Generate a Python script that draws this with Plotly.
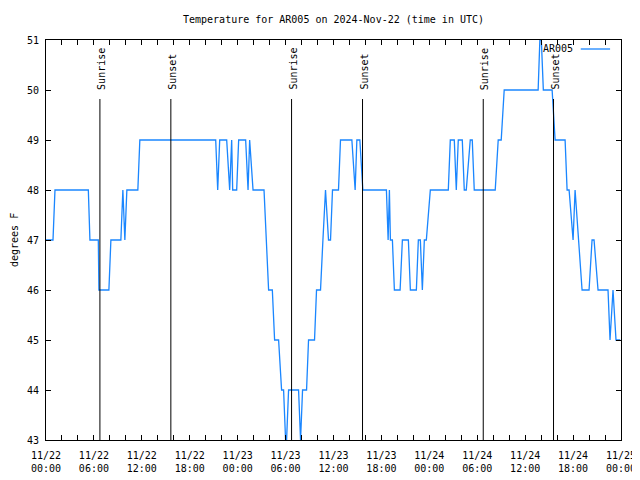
import pandas as pd
import plotly.graph_objects as go

# ---- data ----
start = "2024-11-22 00:00"
# hours since 2024-11-22 00:00 UTC
hours = [0, 0.875, 1.125, 5.3, 5.5, 6.55, 6.625, 7.875, 8.125, 9.375, 9.625, 9.875,
         10.125, 11.5, 11.75, 21.25, 21.5, 21.75, 22.625, 23.0, 23.25, 23.375, 23.875,
         24.125, 25.0, 25.3, 25.5, 25.925, 27.3, 27.875, 28.34, 28.625, 29.125, 29.5,
         29.75, 30.0, 30.125, 30.375, 31.625, 31.875, 32.125, 32.625, 32.875, 33.625,
         33.875, 34.375, 34.675, 35.0, 35.375, 35.625, 35.875, 36.625, 36.875, 38.3,
         38.71, 38.925, 39.3, 39.675, 42.625, 42.84, 43.0, 43.125, 43.375, 43.625,
         44.34, 44.625, 45.375, 45.625, 46.375, 46.625, 46.875, 47.125, 47.375, 47.625,
         48.125, 50.375, 50.625, 51.125, 51.375, 51.625, 52.125, 52.375, 52.625, 53.125,
         53.375, 53.625, 56.25, 56.625, 57.0, 57.375, 61.625, 61.84, 62.025, 62.275,
         63.375, 63.75, 65.0, 65.25, 65.5, 66.0, 66.25, 67.125, 68.0, 68.375, 68.625,
         69.125, 70.375, 70.625, 71.0, 71.375, 71.9]
temps = [47, 47, 48, 48, 47, 47, 46, 46, 47, 47, 48, 47,
         48, 48, 49, 49, 48, 49, 49, 48, 49, 48, 48,
         49, 49, 48, 49, 48, 48, 46, 46, 45, 45, 44,
         44, 43, 43, 44, 44, 43, 44, 44, 45, 45,
         46, 46, 47, 48, 47, 47, 48, 48, 49, 49,
         48, 49, 49, 48, 48, 47, 48, 47, 47, 46,
         46, 47, 47, 46, 46, 47, 47, 46, 47, 47,
         48, 48, 49, 49, 48, 49, 49, 48, 48, 49,
         49, 48, 48, 49, 49, 50, 50, 51, 51, 50,
         50, 49, 49, 48, 48, 47, 48, 46, 46, 47, 47,
         46, 46, 45, 46, 45, 45]

sun_times = ["2024-11-22 06:45", "2024-11-22 15:38", "2024-11-23 06:45",
             "2024-11-23 15:38", "2024-11-24 06:45", "2024-11-24 15:33"]
sun_labels = ["Sunrise", "Sunset", "Sunrise", "Sunset", "Sunrise", "Sunset"]

station = "AR005"
title = "Temperature for AR005 on 2024-Nov-22 (time in UTC)"
y_title = "degrees F"

# ---- figure ----
FONT = "DejaVu Sans Mono"
LINE_COLOR = "#1a86ff"
# the page body has an 8px margin, so the figure is 8px smaller than the window
FIG_W, FIG_H = 632, 472
times = pd.Timestamp(start) + pd.to_timedelta(hours, unit="h")

fig = go.Figure()
fig.add_trace(go.Scatter(x=times, y=temps, mode="lines", name=station,
                         line=dict(color=LINE_COLOR, width=1.3), showlegend=False))

shapes = []
annotations = []
for t, lab in zip(sun_times, sun_labels):
    shapes.append(dict(type="line", xref="x", yref="paper", x0=t, x1=t, y0=0, y1=0.8525,
                       line=dict(color="black", width=1)))
    annotations.append(dict(x=t, y=0.87, xref="x", yref="paper", text=lab, textangle=-90,
                            showarrow=False, xanchor="center", yanchor="bottom", xshift=1,
                            font=dict(family=FONT, size=10, color="black")))

# legend (gnuplot style: text then sample)
annotations.append(dict(x=0.92, y=0.9775, xref="paper", yref="paper", text=station,
                        showarrow=False, xanchor="right", yanchor="middle",
                        font=dict(family=FONT, size=10, color="black")))
shapes.append(dict(type="line", xref="paper", yref="paper", x0=0.930, x1=0.981,
                   y0=0.9775, y1=0.9775, line=dict(color=LINE_COLOR, width=1.3)))
# y axis title
annotations.append(dict(x=0, y=0.5, xref="paper", yref="paper", text=y_title,
                        textangle=-90, showarrow=False, xanchor="center", yanchor="middle",
                        xshift=-32, font=dict(family=FONT, size=10, color="black")))

fig.update_layout(
    width=FIG_W, height=FIG_H,
    margin=dict(l=38, r=19, t=32, b=40, autoexpand=False),
    paper_bgcolor="white", plot_bgcolor="white",
    font=dict(family=FONT, size=10, color="black"),
    title=dict(text=title, x=0.5, xref="paper", xanchor="center",
               y=1 - 11 / FIG_H, yanchor="middle", font=dict(family=FONT, size=10)),
    shapes=shapes, annotations=annotations,
    xaxis=dict(type="date", range=["2024-11-22 00:00", "2024-11-25 00:00"],
               tick0="2024-11-22 00:00", dtick=6 * 3600000, tickformat="%m/%d<br>%H:%M",
               ticks="inside", ticklen=5, tickcolor="black", showline=True,
               linecolor="black", linewidth=1, mirror="ticks", showgrid=False,
               zeroline=False, ticklabelstandoff=6, automargin=False,
               minor=dict(dtick=2 * 3600000, ticks="inside", ticklen=5,
                          tickcolor="black", showgrid=False)),
    yaxis=dict(range=[43, 51], dtick=1, ticks="inside", ticklen=5, tickcolor="black",
               showline=True, linecolor="black", linewidth=1, mirror="ticks",
               showgrid=False, zeroline=False, ticklabelstandoff=4, automargin=False),
)

fig.write_html("out.html", config={"displayModeBar": False})
